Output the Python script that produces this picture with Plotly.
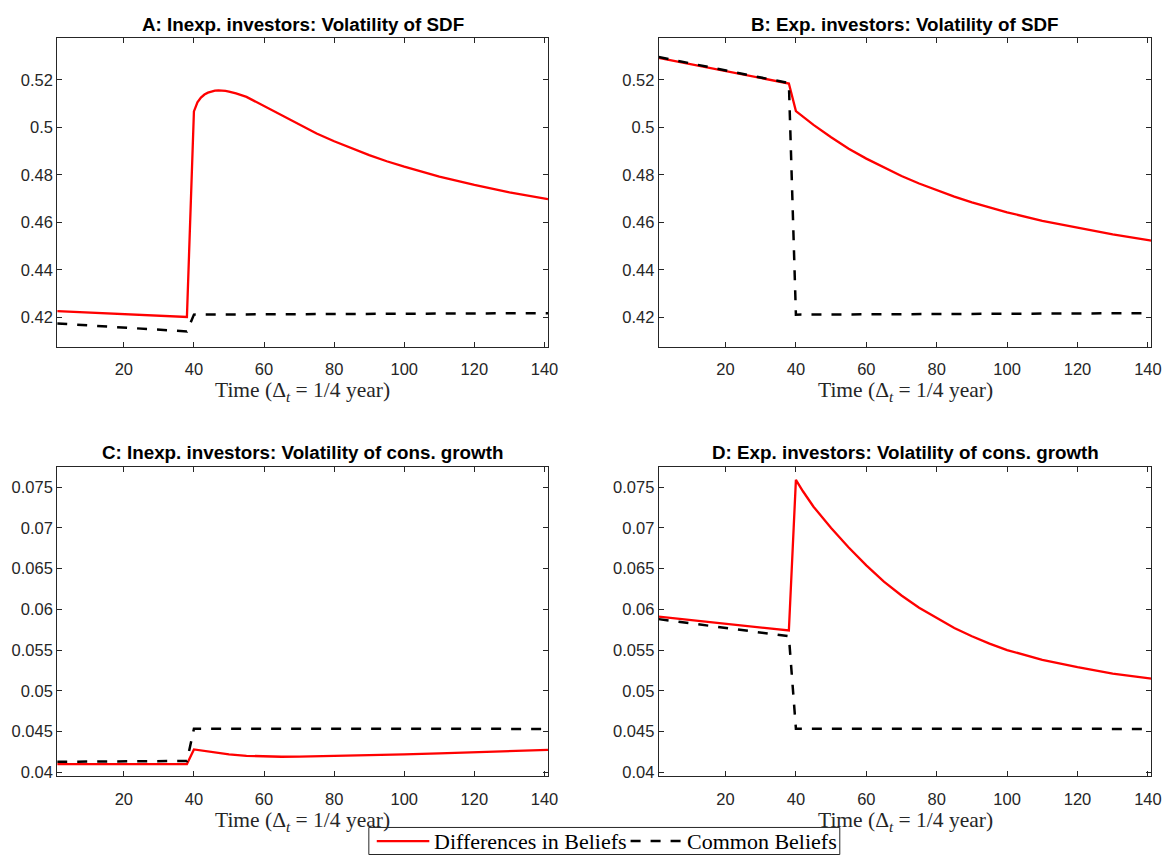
import plotly.graph_objects as go

# ---------------- data ----------------
x_ticks = [20, 40, 60, 80, 100, 120, 140]

sdf_ticks = [0.42, 0.44, 0.46, 0.48, 0.50, 0.52]
sdf_tick_text = ["0.42", "0.44", "0.46", "0.48", "0.5", "0.52"]
cons_ticks = [0.040, 0.045, 0.050, 0.055, 0.060, 0.065, 0.070, 0.075]
cons_tick_text = ["0.04", "0.045", "0.05", "0.055", "0.06", "0.065", "0.07", "0.075"]

titles = [
    "A: Inexp. investors: Volatility of SDF",
    "B: Exp. investors: Volatility of SDF",
    "C: Inexp. investors: Volatility of cons. growth",
    "D: Exp. investors: Volatility of cons. growth",
]
series_names = ["Differences in Beliefs", "Common Beliefs"]
x_title = "Time (Δ<sub><i>t</i></sub> = 1/4 year)"

A_red_x = [1, 38, 40, 41, 42, 43, 44, 45, 46, 47, 48, 49, 50, 52, 55, 60, 65, 70, 75, 80, 85, 90, 95, 100, 110, 120, 130, 141]
A_red_y = [0.4226, 0.4201, 0.5067, 0.5105, 0.5125, 0.5138, 0.5146, 0.5151, 0.5154, 0.5155, 0.5155, 0.5153, 0.5150,
           0.5143, 0.5128, 0.5090, 0.5050, 0.5011, 0.4974, 0.4941, 0.4911, 0.4883, 0.4857, 0.4834, 0.4792, 0.4757, 0.4726, 0.4697]
A_blk_x = [1, 38, 40, 60, 80, 100, 120, 141]
A_blk_y = [0.4174, 0.4140, 0.4211, 0.4213, 0.4214, 0.4215, 0.4216, 0.4217]

B_red_x = [1, 38, 40, 45, 50, 55, 60, 65, 70, 75, 80, 85, 90, 95, 100, 110, 120, 130, 141]
B_red_y = [0.5292, 0.5184, 0.5068, 0.5010, 0.4958, 0.4910, 0.4868, 0.4830, 0.4795, 0.4763, 0.4734, 0.4708,
           0.4684, 0.4662, 0.4642, 0.4606, 0.4576, 0.4549, 0.4523]
B_blk_x = [1, 38, 40, 60, 80, 100, 120, 141]
B_blk_y = [0.5296, 0.5186, 0.4211, 0.4213, 0.4214, 0.4215, 0.4216, 0.4217]

C_red_x = [1, 38, 40, 45, 50, 55, 60, 65, 70, 80, 90, 100, 110, 120, 130, 141]
C_red_y = [0.0410, 0.0410, 0.0428, 0.04245, 0.04218, 0.04202, 0.04194, 0.04190, 0.04191, 0.04197, 0.04207,
           0.04218, 0.04232, 0.04246, 0.04260, 0.04275]
C_blk_x = [1, 38, 40, 60, 80, 100, 120, 141]
C_blk_y = [0.04128, 0.04138, 0.04535, 0.04534, 0.04533, 0.04533, 0.04532, 0.04532]

D_red_x = [1, 38, 40, 42, 45, 50, 55, 60, 65, 70, 75, 80, 85, 90, 95, 100, 110, 120, 130, 141]
D_red_y = [0.0591, 0.0574, 0.0759, 0.0745, 0.0726, 0.0700, 0.0676, 0.0654, 0.0634, 0.0617, 0.0602, 0.0589,
           0.0577, 0.0567, 0.0558, 0.0550, 0.0538, 0.0529, 0.0521, 0.0515]
D_blk_x = [1, 38, 40, 60, 80, 100, 120, 141]
D_blk_y = [0.0588, 0.0567, 0.04535, 0.04534, 0.04533, 0.04533, 0.04532, 0.04532]

# ---------------- figure ----------------
W, H = 1174, 861
RED = "#ff0000"
AX = "#262626"
RED_W = 2.3
BLK_W = 2.5
BLK_DASH = "10px,10px"

fig = go.Figure()
panels = [
    (A_red_x, A_red_y, A_blk_x, A_blk_y),
    (B_red_x, B_red_y, B_blk_x, B_blk_y),
    (C_red_x, C_red_y, C_blk_x, C_blk_y),
    (D_red_x, D_red_y, D_blk_x, D_blk_y),
]
for i, (rx, ry, bx, by) in enumerate(panels):
    sfx = "" if i == 0 else str(i + 1)
    fig.add_trace(go.Scatter(x=rx, y=ry, mode="lines", name=series_names[0],
                             line=dict(color=RED, width=RED_W), xaxis="x" + sfx, yaxis="y" + sfx,
                             showlegend=False))
    fig.add_trace(go.Scatter(x=bx, y=by, mode="lines", name=series_names[1],
                             line=dict(color="black", width=BLK_W, dash=BLK_DASH), xaxis="x" + sfx, yaxis="y" + sfx,
                             showlegend=False))

# panel pixel boxes (left, right, top, bottom)
boxes = [
    (57.7, 552.7, 38.7, 348.7),
    (664.3, 1161.3, 38.7, 348.7),
    (57.7, 552.7, 469.3, 781.0),
    (664.3, 1161.3, 469.3, 781.0),
]
yranges = [[0.4076, 0.5374], [0.4076, 0.5374], [0.03948, 0.07753], [0.03948, 0.07753]]

serif = "Liberation Serif, Times New Roman, serif"
sans = "Liberation Sans, Arial, sans-serif"
tickfont = dict(family=sans, size=16.5, color=AX)
layout = dict(
    width=W, height=H, margin=dict(l=0, r=0, t=0, b=0),
    paper_bgcolor="white", plot_bgcolor="white",
    showlegend=False,
)
annotations = []
shapes = []
for i, (l, r, t, b) in enumerate(boxes):
    sfx = "" if i == 0 else str(i + 1)
    xd = [l / W, r / W]
    yd = [1 - b / H, 1 - t / H]
    layout["xaxis" + sfx] = dict(
        domain=xd, range=[1, 141], anchor="y" + sfx, tickvals=x_ticks,
        ticks="inside", ticklen=5, tickcolor=AX, tickwidth=1,
        showline=True, linecolor=AX, linewidth=1, mirror="ticks",
        showgrid=False, zeroline=False, tickfont=tickfont, ticklabelstandoff=8,
    )
    if i < 2:
        tv, tt = sdf_ticks, sdf_tick_text
    else:
        tv, tt = cons_ticks, cons_tick_text
    layout["yaxis" + sfx] = dict(
        domain=yd, range=yranges[i], anchor="x" + sfx, tickvals=tv, ticktext=tt,
        ticks="inside", ticklen=5, tickcolor=AX, tickwidth=1,
        showline=True, linecolor=AX, linewidth=1, mirror="ticks",
        showgrid=False, zeroline=False, tickfont=tickfont,
    )
    cx = (l + r) / 2 / W
    annotations.append(dict(text="<b>" + titles[i] + "</b>", x=cx, y=1 - (t - 14.5) / H,
                            xref="paper", yref="paper", xanchor="center", yanchor="middle",
                            showarrow=False, font=dict(family=sans, size=18.8, color="black")))
    annotations.append(dict(text=x_title, x=cx, y=1 - (b + 45) / H,
                            xref="paper", yref="paper", xanchor="center", yanchor="middle",
                            showarrow=False, font=dict(family=serif, size=21.5, color=AX)))

# legend (box, samples, labels) at the bottom
LEG_L, LEG_R, LEG_T, LEG_B, LEG_Y = 372, 847, 832.3, 859.5, 846
px = lambda v: v / W
py = lambda v: 1 - v / H
shapes.append(dict(type="rect", xref="paper", yref="paper", x0=px(LEG_L), x1=px(LEG_R), y0=py(LEG_B), y1=py(LEG_T),
                   line=dict(color=AX, width=1), fillcolor="white", layer="above"))
shapes.append(dict(type="line", xref="paper", yref="paper", x0=px(380), x1=px(433), y0=py(LEG_Y), y1=py(LEG_Y),
                   line=dict(color=RED, width=RED_W), layer="above"))
shapes.append(dict(type="line", xref="paper", yref="paper", x0=px(636), x1=px(687), y0=py(LEG_Y), y1=py(LEG_Y),
                   line=dict(color="black", width=BLK_W, dash=BLK_DASH), layer="above"))
annotations.append(dict(text=series_names[0], x=px(436), y=py(LEG_Y), xref="paper", yref="paper",
                        xanchor="left", yanchor="middle", showarrow=False,
                        font=dict(family=serif, size=22, color="black")))
annotations.append(dict(text=series_names[1], x=px(691), y=py(LEG_Y), xref="paper", yref="paper",
                        xanchor="left", yanchor="middle", showarrow=False,
                        font=dict(family=serif, size=22, color="black")))

layout["annotations"] = annotations
layout["shapes"] = shapes
fig.update_layout(**layout)
fig.write_html("out.html")
